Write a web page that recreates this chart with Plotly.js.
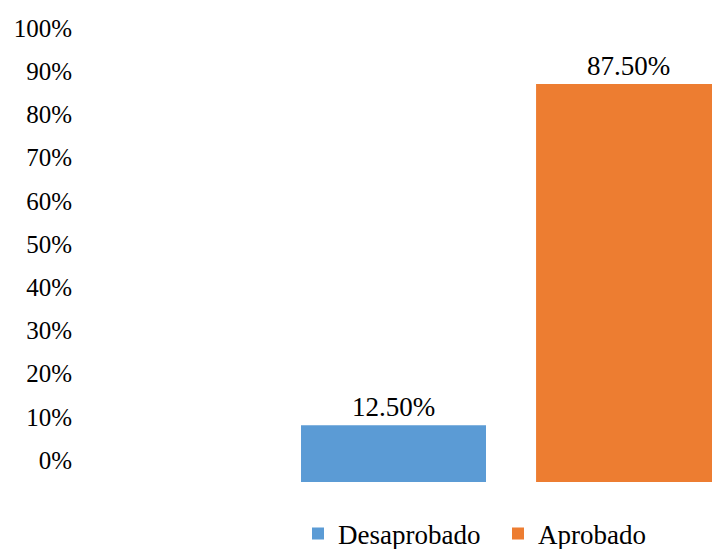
<!DOCTYPE html>
<html>
<head>
<meta charset="utf-8">
<script src="https://cdn.plot.ly/plotly-3.0.1.min.js"></script>
<style>html,body{margin:0;padding:0;background:#fff;}#chart{width:712px;height:549px;}</style>
</head>
<body>
<div id="chart"></div>
<script>
var seriesNames = ["Desaprobado", "Aprobado"];
var seriesValues = [12.5, 87.5];
var seriesColors = ["#5B9BD5", "#ED7D31"];
var category = [""];
var tickValues = [0, 10, 20, 30, 40, 50, 60, 70, 80, 90, 100];
var tickLabels = ["0%", "10%", "20%", "30%", "40%", "50%", "60%", "70%", "80%", "90%", "100%"];

var fontFam = "Liberation Serif, Times New Roman, serif";
var fs = 27;

var traces = seriesNames.map(function (name, i) {
  return {
    type: "bar",
    name: name,
    x: category,
    y: [seriesValues[i]],
    marker: { color: seriesColors[i] },
    text: [seriesValues[i].toFixed(2) + "%"],
    textposition: "outside",
    cliponaxis: false,
    textfont: { family: fontFam, size: fs, color: "#000" },
    hoverinfo: "skip"
  };
});
// carrier for the tick-label axis (draws nothing)
traces.push({
  type: "scatter",
  mode: "none",
  x: category,
  y: [tickValues[0]],
  yaxis: "y2",
  showlegend: false,
  hoverinfo: "skip"
});

var layout = {
  width: 712,
  height: 549,
  margin: { l: 85, r: 0, t: 27, b: 67, autoexpand: false },
  paper_bgcolor: "#fff",
  plot_bgcolor: "#fff",
  barmode: "group",
  bargap: 0.2,
  bargroupgap: 0.213,
  showlegend: true,
  legend: {
    orientation: "h",
    x: 298 / 712,
    xref: "container",
    xanchor: "left",
    y: 15 / 549,
    yref: "container",
    yanchor: "middle",
    font: { family: fontFam, size: fs, color: "#000" },
    entrywidth: 155,
    entrywidthmode: "pixels",
    tracegroupgap: 0
  },
  font: { family: fontFam, size: fs, color: "#000" },
  xaxis: {
    type: "category",
    range: [-0.725, 0.342],
    showgrid: false,
    zeroline: false,
    showline: false,
    showticklabels: false,
    ticks: "",
    fixedrange: true
  },
  yaxis: {
    range: [0, 100],
    showgrid: false,
    zeroline: false,
    showline: false,
    showticklabels: false,
    ticks: ""
  },
  yaxis2: {
    overlaying: "y",
    side: "left",
    range: [-5.09, 100.23],
    tickvals: tickValues,
    ticktext: tickLabels,
    showgrid: false,
    zeroline: false,
    showline: false,
    ticks: "",
    ticklabelstandoff: 12,
    tickfont: { family: fontFam, size: 25, color: "#000" }
  }
};

Plotly.newPlot("chart", traces, layout, { displayModeBar: false, staticPlot: true });
</script>
</body>
</html>
